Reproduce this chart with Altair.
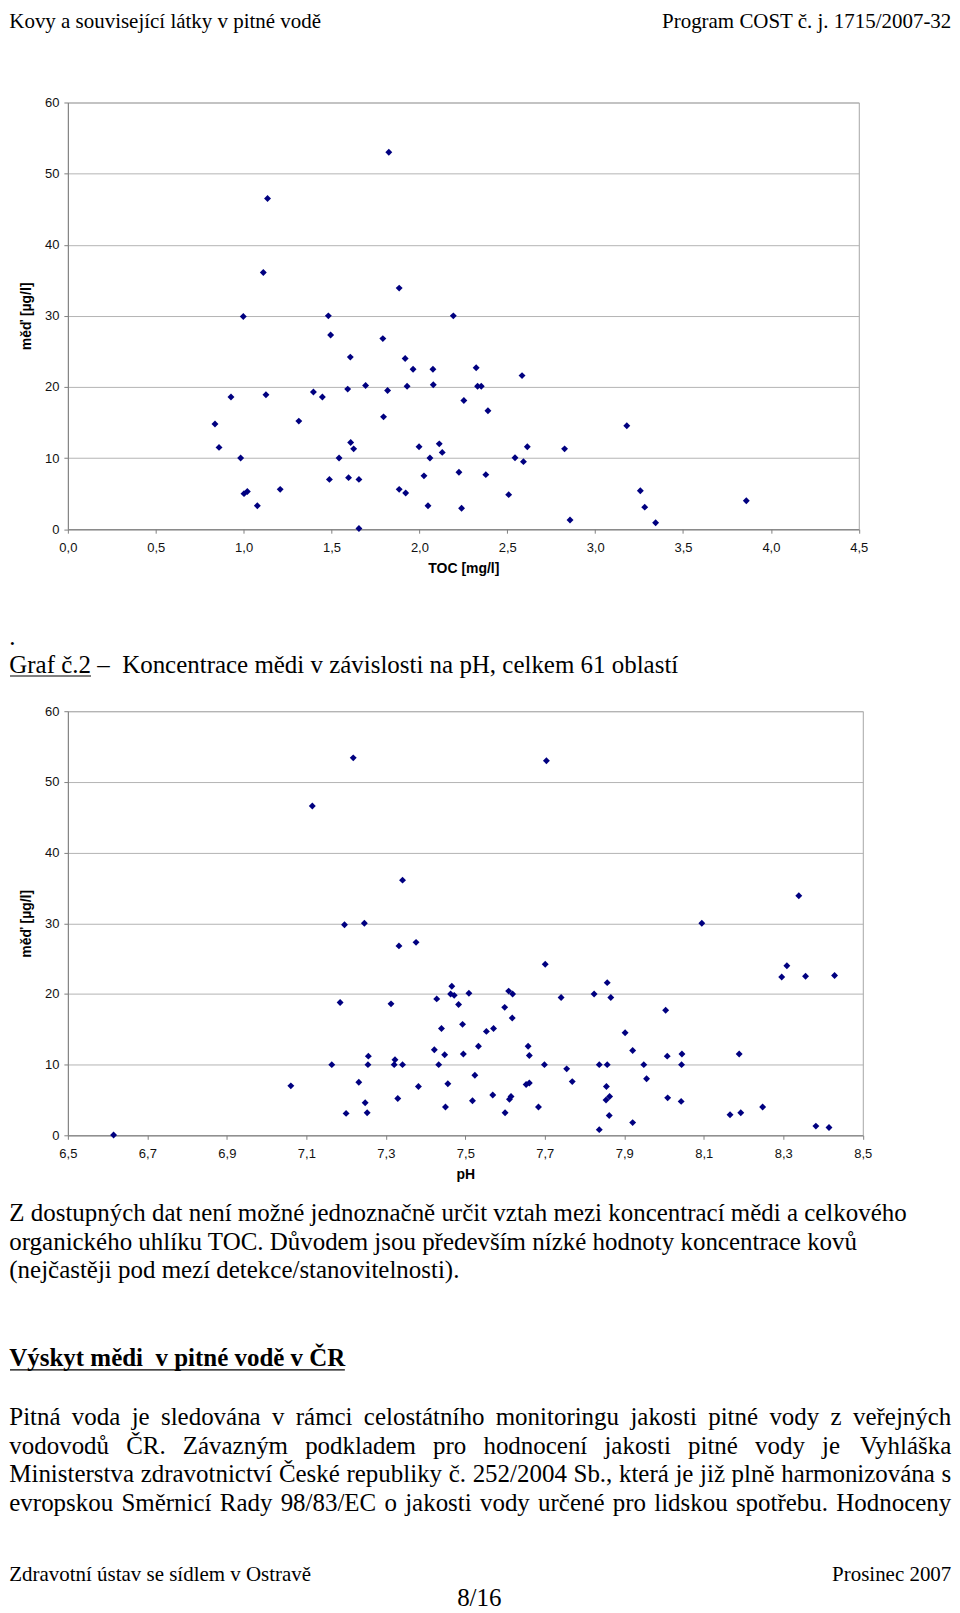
import unicodedata
import altair as alt
import pandas as pd

# ---------------- data ----------------
toc_mg_l = [0.837, 0.860, 0.928, 0.983, 0.998, 1.002, 1.021, 1.078, 1.112, 1.136,
            1.127, 1.208, 1.314, 1.397, 1.448, 1.482, 1.495, 1.488, 1.543, 1.592,
            1.607, 1.597, 1.609, 1.626, 1.656, 1.656, 1.694, 1.792, 1.796, 1.819,
            1.826, 1.885, 1.885, 1.919, 1.922, 1.930, 1.964, 1.998, 2.026, 2.049,
            2.060, 2.077, 2.079, 2.113, 2.130, 2.193, 2.225, 2.240, 2.253, 2.323,
            2.331, 2.352, 2.584, 2.390, 3.180, 2.614, 2.826, 2.544, 2.592, 2.378,
            2.508, 3.257, 3.282, 2.857, 3.344, 3.860]
cu_vs_toc = [14.8, 11.5, 18.6, 10.0, 29.9, 5.0, 5.3, 3.3, 36.1, 46.5,
             18.9, 5.6, 15.2, 19.3, 18.6, 30.0, 27.3, 7.0, 10.0, 19.7,
             24.2, 7.25, 12.2, 11.3, 7.0, 0.1, 20.2, 26.8, 15.8, 19.5,
             53.0, 33.9, 5.6, 24.0, 5.1, 20.1, 22.5, 11.6, 7.5, 3.3,
             10.0, 22.5, 20.3, 12.0, 10.8, 30.0, 8.0, 2.95, 18.1, 22.7,
             20.1, 20.1, 21.6, 16.65, 14.55, 11.6, 11.3, 10.05, 9.5, 7.67,
             4.86, 5.4, 3.1, 1.3, 0.9, 4.0]

ph_values = [6.615, 7.061, 7.115, 7.164, 7.185, 7.196, 7.200, 7.218, 7.232, 7.246,
             7.248, 7.253, 7.256, 7.255, 7.313, 7.323, 7.321, 7.330, 7.333, 7.342,
             7.342, 7.376, 7.382, 7.422, 7.428, 7.433, 7.440, 7.448, 7.450, 7.456,
             7.466, 7.463, 7.472, 7.483, 7.493, 7.495, 7.509, 7.518, 7.524, 7.533,
             7.553, 7.571, 7.569, 7.599, 7.600, 7.609, 7.619, 7.618, 7.611, 7.615,
             7.658, 7.661, 7.653, 7.661, 7.684, 7.701, 7.704, 7.699, 7.741, 7.755,
             7.769, 7.824, 7.837, 7.837, 7.857, 7.857, 7.855, 7.866, 7.854, 7.863,
             7.862, 7.902, 7.921, 7.921, 7.949, 7.956, 8.004, 8.008, 8.009, 8.045,
             8.044, 8.043, 8.095, 8.166, 8.189, 8.193, 8.248, 8.296, 8.309, 8.339,
             8.356, 8.382, 8.415, 8.429]
cu_vs_ph = [0.05, 7.0, 46.6, 10.0, 18.8, 29.8, 3.1, 53.4, 7.5, 30.0,
            4.6, 3.2, 11.2, 10.0, 18.6, 10.7, 10.0, 5.2, 26.8, 36.1,
            10.0, 27.3, 6.9, 12.1, 19.3, 10.0, 15.1, 11.4, 4.0, 7.3,
            21.1, 20.0, 19.8, 18.5, 15.7, 11.5, 20.1, 4.9, 8.5, 12.6,
            14.7, 15.1, 5.7, 18.1, 3.2, 20.4, 20.0, 16.6, 5.1, 5.5,
            12.6, 11.3, 7.2, 7.4, 4.0, 24.2, 53.0, 10.0, 19.5, 9.4,
            7.6, 20.0, 10.0, 0.8, 21.6, 10.0, 6.9, 19.5, 5.0, 5.5,
            2.8, 14.5, 12.0, 1.8, 10.0, 8.0, 17.7, 11.2, 5.3, 11.5,
            10.0, 4.8, 30.0, 2.9, 11.5, 3.2, 4.0, 22.4, 24.0, 33.9,
            22.5, 1.3, 1.1, 22.6]

toc_ticks = [0.0, 0.5, 1.0, 1.5, 2.0, 2.5, 3.0, 3.5, 4.0, 4.5]
ph_ticks = [6.5, 6.7, 6.9, 7.1, 7.3, 7.5, 7.7, 7.9, 8.1, 8.3, 8.5]
cu_ticks = [0, 10, 20, 30, 40, 50, 60]

y_title = "měď [µg/l]"
x_title_toc = "TOC [mg/l]"
x_title_ph = "pH"

header_left = "Kovy a související látky v pitné vodě"
header_right = "Program COST č. j. 1715/2007-32"
dot_line = "."
graf_label = "Graf č.2"
graf_title = "Graf č.2 – \u00a0Koncentrace mědi v závislosti na pH, celkem 61 oblastí"
para1 = [
    "Z dostupných dat není možné jednoznačně určit vztah mezi koncentrací mědi a celkového",
    "organického uhlíku TOC. Důvodem jsou především nízké hodnoty koncentrace kovů",
    "(nejčastěji pod mezí detekce/stanovitelnosti).",
]
heading = "Výskyt mědi \u00a0v pitné vodě v ČR"
para2 = [
    "Pitná voda je sledována v rámci celostátního monitoringu jakosti pitné vody z veřejných",
    "vodovodů ČR. Závazným podkladem pro hodnocení jakosti pitné vody je Vyhláška",
    "Ministerstva zdravotnictví České republiky č. 252/2004 Sb., která je již plně harmonizována s",
    "evropskou Směrnicí Rady 98/83/EC o jakosti vody určené pro lidskou spotřebu. Hodnoceny",
]
footer_left = "Zdravotní ústav se sídlem v Ostravě"
footer_right = "Prosinec 2007"
page_no = "8/16"

# ---------------- layout ----------------
SERIF = "Liberation Serif"
SANS = "Liberation Sans"
PX0 = 66.7            # page x of both plot areas
PAGE_L, PAGE_R = 8.0, 952.0
R0 = 8.0
TOP_OVERHANG = 2.0    # header text bounds reach above the first row
S1_TOP, S1_H, S1_W = 101.7, 427.6, 792.6
R2 = S1_TOP + S1_H
S2_TOP, S2_H, S2_W = 710.5, 425.0, 796.6
R4 = S2_TOP + S2_H
R4_H = 476.0
BODY = 25
SMALL = 21

DUMMY = alt.Data(values=[{}])

# Times / Liberation Serif advance widths (em)
_W = {' ': .25, '\u00a0': .25, '.': .25, ',': .25, '/': .278, '(': .333, ')': .333,
      '-': .333, '–': .5,
      'a': .444, 'b': .5, 'c': .444, 'd': .5, 'e': .444, 'f': .333, 'g': .5, 'h': .5,
      'i': .278, 'j': .278, 'k': .5, 'l': .278, 'm': .778, 'n': .5, 'o': .5, 'p': .5,
      'q': .5, 'r': .333, 's': .389, 't': .278, 'u': .5, 'v': .5, 'w': .722, 'x': .5,
      'y': .5, 'z': .444,
      'A': .722, 'B': .667, 'C': .667, 'D': .722, 'E': .611, 'F': .556, 'G': .722,
      'H': .722, 'I': .333, 'J': .389, 'K': .722, 'L': .611, 'M': .889, 'N': .722,
      'O': .722, 'P': .556, 'Q': .722, 'R': .667, 'S': .556, 'T': .611, 'U': .722,
      'V': .722, 'W': .944, 'X': .722, 'Y': .722, 'Z': .611}


def text_width(s, size):
    total = 0.0
    for ch in s:
        base = unicodedata.normalize('NFD', ch)[0]
        total += _W.get(ch, _W.get(base, 0.5))
    return total * size


def serif_text(s, page_x, page_y, row_top, size, align='left', weight='normal'):
    return alt.Chart(DUMMY).mark_text(
        text=s, align=align, baseline='alphabetic', font=SERIF, fontSize=size,
        fontWeight=weight, color='black'
    ).encode(x=alt.value(round(page_x - PX0, 2)), y=alt.value(round(page_y - row_top, 2)))


def underline(page_x0, page_x1, page_y, row_top, sw=1.2):
    return alt.Chart(DUMMY).mark_rule(color='black', strokeWidth=sw).encode(
        x=alt.value(round(page_x0 - PX0, 2)), x2=alt.value(round(page_x1 - PX0, 2)),
        y=alt.value(round(page_y - row_top, 2)))


def justified(line, page_y, row_top, size):
    words = line.split(' ')
    widths = [text_width(w, size) for w in words]
    gap = (PAGE_R - PAGE_L - sum(widths)) / (len(words) - 1)
    marks = []
    x = PAGE_L
    for i, (w, wd) in enumerate(zip(words, widths)):
        if i == len(words) - 1:
            marks.append(serif_text(w, PAGE_R, page_y, row_top, size, align='right'))
        else:
            marks.append(serif_text(w, x, page_y, row_top, size))
        x += wd + gap
    return marks


def text_block(marks, height):
    return alt.layer(*marks).properties(width=S2_W, height=height)


label_expr = "replace(format(datum.value, '.1f'), '.', ',')"


def scatter(xvals, yvals, xdom, xticks, xtitle, w, h):
    df = pd.DataFrame({'x': xvals, 'y': yvals})
    return alt.Chart(df).mark_point(
        shape='diamond', filled=True, size=48, color='#000080', opacity=1
    ).encode(
        x=alt.X('x:Q', scale=alt.Scale(domain=xdom, nice=False, zero=False),
                axis=alt.Axis(values=xticks, labelExpr=label_expr, grid=False,
                              labelFlush=False, labelOverlap=False,
                              labelFont=SANS, labelFontSize=13, labelColor='#111111',
                              labelPadding=8, tickSize=4, tickColor='#808080',
                              domainColor='#808080', title=xtitle, titleFont=SANS,
                              titleFontSize=14, titleFontWeight='bold', titleColor='black',
                              titleY=39, titleBaseline='middle')),
        y=alt.Y('y:Q', scale=alt.Scale(domain=[0, 60], nice=False, zero=True),
                axis=alt.Axis(values=cu_ticks, format='d', grid=True, gridColor='#b4b4b4',
                              labelFont=SANS, labelFontSize=13, labelColor='#111111',
                              labelPadding=5, tickSize=4, tickColor='#808080',
                              domainColor='#808080', title=y_title, titleFont=SANS,
                              titleFontSize=14, titleFontWeight='bold', titleColor='black',
                              titleX=-41.5, titleY=h / 2, titleAngle=270,
                              titleBaseline='middle', titleAlign='center')),
    ).properties(width=w, height=h, view=alt.ViewBackground(stroke='#a6a6a6', strokeWidth=1))


# row 0: page header
row0 = text_block([
    serif_text(header_left, PAGE_L, 25, R0, SMALL),
    serif_text(header_right, PAGE_R, 25, R0, SMALL, align='right'),
], S1_TOP - R0 - TOP_OVERHANG)

chart1 = scatter(toc_mg_l, cu_vs_toc, [0, 4.5], toc_ticks, x_title_toc, S1_W, S1_H)

# row 2: caption of graph 2
graf_w = text_width(graf_label, BODY)
row2 = text_block([
    serif_text(dot_line, PAGE_L, 645, R2, BODY),
    serif_text(graf_title, PAGE_L, 673, R2, BODY),
    underline(PAGE_L + 0.7, PAGE_L + graf_w, 676, R2),
], S2_TOP - R2)

chart2 = scatter(ph_values, cu_vs_ph, [6.5, 8.5], ph_ticks, x_title_ph, S2_W, S2_H)

# row 4: body text and footer
bottom = []
for i, line in enumerate(para1):
    bottom.append(serif_text(line, PAGE_L, 1221.5 + i * 28.7, R4, BODY))
bottom.append(serif_text(heading, PAGE_L, 1367, R4, BODY, weight='bold'))
bottom.append(underline(PAGE_L + 0.7, PAGE_L + 13.45 * BODY, 1370.5, R4))
for i, line in enumerate(para2):
    bottom.extend(justified(line, 1426 + i * 28.5, R4, BODY))
bottom.append(serif_text(footer_left, PAGE_L, 1582, R4, SMALL))
bottom.append(serif_text(footer_right, PAGE_R, 1582, R4, SMALL, align='right'))
bottom.append(serif_text(page_no, 479, 1607, R4, BODY, align='center'))
row4 = text_block(bottom, R4_H)

chart = alt.vconcat(
    row0, chart1, row2, chart2, row4, spacing=0, bounds='flush', padding=0,
).properties(background='white').configure_view(stroke='transparent')

chart.save("out.html", embed_options={"renderer": "svg", "actions": False})
